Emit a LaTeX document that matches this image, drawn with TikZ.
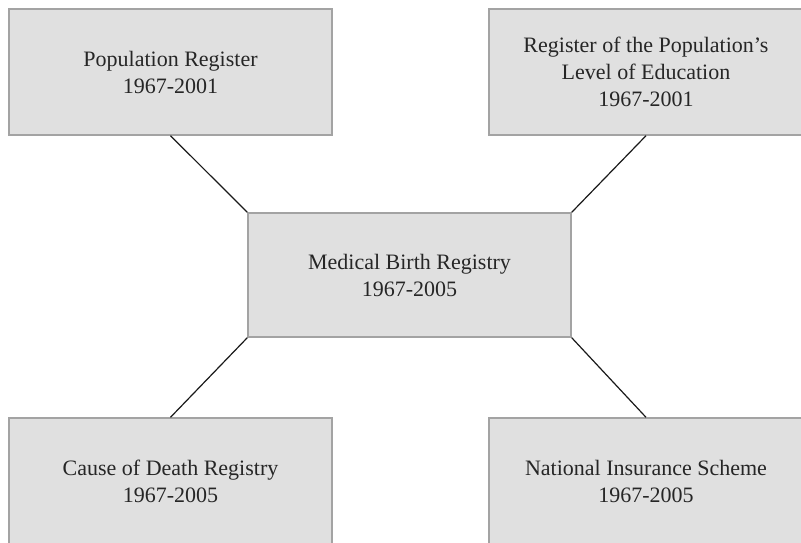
\documentclass[tikz,border=0pt]{standalone}
\usepackage{fontspec}
\setmainfont{Liberation Serif}
\begin{document}
\begin{tikzpicture}[x=0.5pt,y=-0.5pt,thin]
\definecolor{boxgray}{rgb}{0.878,0.878,0.878}
\definecolor{framegray}{rgb}{0.64,0.64,0.64}
\tikzset{
  regbox/.style={draw=framegray,fill=boxgray,line width=0.7pt,align=center,
    text=black!85,font=\fontsize{11}{13.5}\selectfont,inner sep=0pt},
  link/.style={line width=0.6pt,black!90}
}
\useasboundingbox (0,0) rectangle (801,542);

\node[regbox,minimum width=161.5pt,minimum height=63pt] (pop) at (170.5,72)
  {Population Register\\1967-2001};
\node[regbox,minimum width=157pt,minimum height=63pt] (edu) at (646,72)
  {Register of the Population's\\Level of Education\\1967-2001};
\node[regbox,minimum width=161.5pt,minimum height=62pt] (mbr) at (409.5,275)
  {Medical Birth Registry\\1967-2005};
\node[regbox,minimum width=161.5pt,minimum height=63pt] (death) at (170.5,481)
  {Cause of Death Registry\\1967-2005};
\node[regbox,minimum width=157pt,minimum height=63pt] (nis) at (646,481)
  {National Insurance Scheme\\1967-2005};

\draw[link] (pop.south) -- (mbr.north west);
\draw[link] (edu.south) -- (mbr.north east);
\draw[link] (death.north) -- (mbr.south west);
\draw[link] (nis.north) -- (mbr.south east);

\end{tikzpicture}
\end{document}
